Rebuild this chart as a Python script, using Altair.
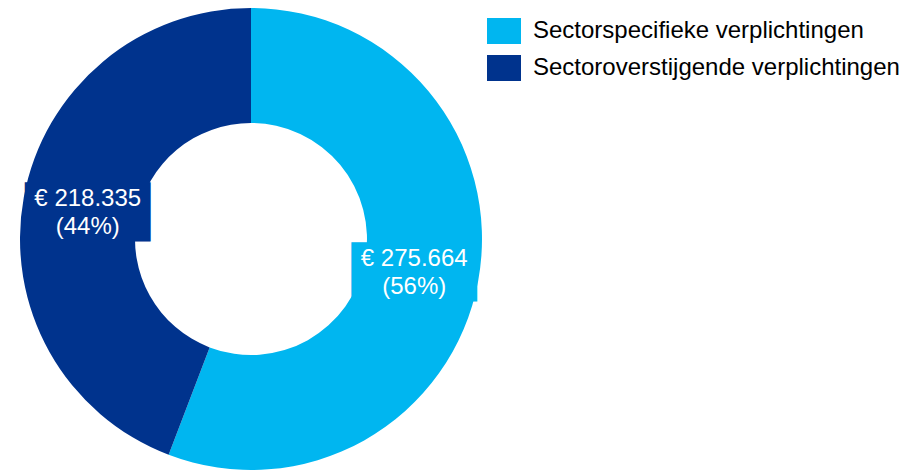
import altair as alt
import pandas as pd

categories = ["Sectorspecifieke verplichtingen", "Sectoroverstijgende verplichtingen"]
values = [275664, 218335]
labels = ["€ 275.664\n(56%)", "€ 218.335\n(44%)"]
colors = ["#00B6F0", "#00338D"]
order = [0, 1]
boxes = ["████", "████"]

df = pd.DataFrame({"cat": categories, "value": values, "label": labels, "ord": order, "box": boxes})

scale = alt.Scale(domain=categories, range=colors)

color = alt.Color(
    "cat:N",
    scale=scale,
    sort=categories,
    legend=alt.Legend(
        title=None,
        orient="none",
        legendX=479,
        legendY=6,
        symbolType="M-1,-0.765H1V0.765H-1Z",
        symbolSize=1156,
        symbolStrokeWidth=0,
        labelFont="Liberation Sans",
        labelFontSize=24,
        labelColor="#000000",
        labelOffset=12,
        rowPadding=6,
        labelLimit=500,
    ),
)

base = alt.Chart(df).encode(
    theta=alt.Theta("value:Q", stack=True),
    order=alt.Order("ord:Q"),
)

arcs = base.mark_arc(outerRadius=231, innerRadius=116, stroke=None).encode(
    color=color,
    x=alt.value(243),
    y=alt.value(231),
)

box = base.mark_text(
    radius=166,
    font="DejaVu Sans",
    fontSize=35,
    align="center",
    baseline="middle",
    strokeWidth=17.5,
    strokeJoin="miter",
    dy=4,
).encode(
    text="box:N",
    color=alt.Color("cat:N", scale=scale, legend=None),
    stroke=alt.Stroke("cat:N", scale=scale, legend=None),
    x=alt.value(243),
    y=alt.value(231),
)

text = base.mark_text(
    radius=166,
    font="Liberation Sans",
    fontSize=24,
    color="white",
    lineBreak="\n",
    lineHeight=28,
    align="center",
    baseline="middle",
    dy=-10,
).encode(
    text="label:N",
    x=alt.value(243),
    y=alt.value(231),
)

chart = alt.layer(arcs, box, text).properties(
    width=904,
    height=463,
    autosize=alt.AutoSizeParams(type="none"),
    padding=0,
).configure_view(stroke=None)

chart.save("out.html", embed_options={"renderer": "svg", "actions": False})
